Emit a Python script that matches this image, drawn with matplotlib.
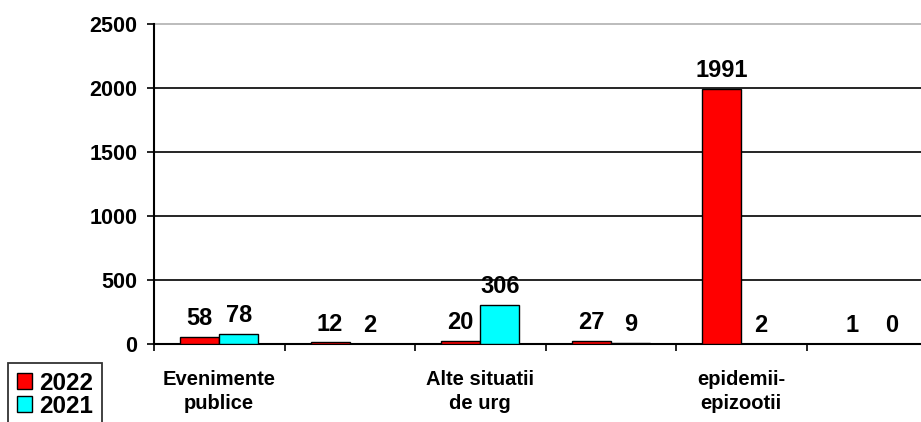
import matplotlib
matplotlib.use("Agg")
import matplotlib.pyplot as plt
import numpy as np
from matplotlib.patches import Rectangle

categories = ["Evenimente\npublice", "", "Alte situatii\nde urg", "", "epidemii-\nepizootii", ""]
series_names = ["2022", "2021"]
values_2022 = [58, 12, 20, 27, 1991, 1]
values_2021 = [78, 2, 306, 9, 2, 0]
colors = ["#FF0000", "#00FFFF"]
yticks = [0, 500, 1000, 1500, 2000, 2500]

plt.rcParams['font.family'] = ['Liberation Sans', 'DejaVu Sans']
plt.rcParams['font.weight'] = 'bold'

fig = plt.figure(figsize=(9.21, 4.22), dpi=100)
ax = fig.add_axes([154/921, 1-344/422, (937-154)/921, (344-24)/422])

n = len(categories)
x = np.arange(n)
w = 0.3
offsets = [-w/2, w/2]
for vals, col, off in zip([values_2022, values_2021], colors, offsets):
    b = ax.bar(x + off, vals, width=w, color=col, edgecolor="black", linewidth=1.0, zorder=3)
    for rect, v in zip(b, vals):
        ax.annotate(str(v), (rect.get_x() + rect.get_width()/2, rect.get_height()),
                    xytext=(0, 5), textcoords="offset points", ha="center", va="bottom",
                    fontsize=17, fontweight="bold", zorder=4)

ax.set_xlim(-0.5, n - 0.5)
ax.set_ylim(0, 2500)
ax.set_yticks(yticks)
ax.set_yticklabels([str(t) for t in yticks], fontsize=15.5, fontweight="bold")
ax.tick_params(axis="y", direction="out", length=5, width=1.2, pad=7)

ax.set_xticks(np.arange(n + 1) - 0.5)
ax.set_xticklabels([])
ax.tick_params(axis="x", which="major", direction="out", length=5, width=1.2)
ax.set_xticks(x, minor=True)
ax.set_xticklabels(categories, minor=True, fontsize=14.5, fontweight="bold", linespacing=1.3)
ax.tick_params(axis="x", which="minor", length=0, pad=19)

for t in yticks[1:-1]:
    ax.axhline(t, color="black", linewidth=1.2, zorder=1)
ax.axhline(2500, color="#b0b0b0", linewidth=1.2, zorder=1, clip_on=False)

for s in ["top", "right"]:
    ax.spines[s].set_visible(False)
ax.spines["left"].set_linewidth(1.5)
ax.spines["bottom"].set_linewidth(1.5)

handles = [Rectangle((0, 0), 1, 1, facecolor=c, edgecolor="black", linewidth=1.0) for c in colors]
leg = fig.legend(handles, series_names, loc="upper left", bbox_to_anchor=(8/921, 1-363/422),
                 bbox_transform=fig.transFigure, frameon=True, fancybox=False,
                 prop={"size": 17.5, "weight": "bold"}, handlelength=0.65, handleheight=0.65,
                 handletextpad=0.3, labelspacing=0.0, borderpad=0.35, borderaxespad=0)
leg.get_frame().set_edgecolor("black")
leg.get_frame().set_linewidth(1.3)

fig.savefig("out.png", dpi=100)
